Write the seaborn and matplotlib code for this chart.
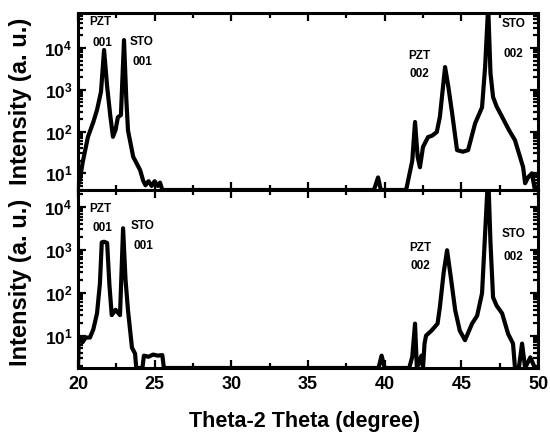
import matplotlib
matplotlib.use("Agg")
import matplotlib.pyplot as plt
import matplotlib.ticker as mticker
import seaborn as sns
import pandas as pd
import numpy as np

# ---------------- data ----------------
top_floor = 4.0
bot_floor = 1.75

top_x = [20.0, 20.15, 20.3, 20.65, 21.0, 21.24, 21.5, 21.7, 21.9, 22.1, 22.28,
         22.45, 22.6, 22.8, 23.0, 23.15, 23.26, 23.6, 24.05, 24.25, 24.4, 24.6,
         24.8, 25.0, 25.2, 25.35, 25.5, 30.0, 35.0, 39.3, 39.57, 39.75, 41.4,
         41.8, 41.98, 42.15, 42.3, 42.5, 42.83, 43.1, 43.4, 43.6, 43.94, 44.15,
         44.4, 44.72, 45.1, 45.44, 45.9, 46.35, 46.55, 46.75, 46.9, 47.07, 47.3,
         47.66, 48.1, 48.5, 49.03, 49.16, 49.35, 49.6, 49.8, 50.0]
top_y = [5, 8, 18, 75, 170, 330, 900, 9000, 1200, 250, 75,
         110, 220, 250, 15500, 600, 107, 25, 12, 6.7, 5.2, 6.5,
         5.0, 6.5, 5.0, 6.0, 4.0, 4.0, 4.0, 4.0, 8, 4.0, 4.0,
         20, 170, 25, 14, 43, 74, 80, 98, 225, 3500, 1200,
         275, 36, 33, 36, 158, 380, 3500, 100000, 2500, 670, 400,
         225, 110, 62, 14, 5.8, 8, 10, 4.0, 5]

bot_x = [20.0, 20.05, 20.13, 20.3, 20.5, 20.78, 21.0, 21.24, 21.43, 21.55, 21.7,
         21.9, 22.05, 22.2, 22.45, 22.74, 22.94, 23.1, 23.26, 23.52, 23.72,
         23.8, 24.2, 24.3, 24.6, 24.9, 25.2, 25.5, 25.6, 30.0, 35.0, 39.6, 39.8,
         40.0, 41.6, 41.8, 41.98, 42.1, 42.4, 42.5, 42.6, 42.7, 43.05, 43.45,
         43.6, 43.85, 44.07, 44.3, 44.6, 44.9, 45.24, 45.7, 46.03, 46.35, 46.55,
         46.75, 46.9, 47.07, 47.3, 47.66, 48.05, 48.37, 48.5, 48.75, 48.96,
         49.16, 49.5, 49.8, 50.0]
bot_y = [1.75, 7.8, 9, 7, 9, 9, 14, 33, 165, 1500, 1550,
         1450, 150, 30, 40, 30, 3200, 200, 39, 5.2, 3.8,
         1.75, 1.75, 3.4, 3.2, 3.6, 3.4, 3.5, 1.75, 1.75, 1.75, 1.75, 3.4,
         1.75, 1.75, 3.2, 19, 1.75, 3.4, 1.75, 6.5, 10, 13, 19,
         46, 300, 980, 250, 39, 13, 7.8, 19, 29, 97, 2400,
         60000, 1500, 78, 50, 33, 11, 6.5, 1.75, 1.75, 6.5,
         1.75, 3.1, 1.75, 1.75]

y_major = [10, 100, 1000, 10000]
y_major_labels = [r"$\mathbf{10^{1}}$", r"$\mathbf{10^{2}}$",
                  r"$\mathbf{10^{3}}$", r"$\mathbf{10^{4}}$"]
x_major = [20, 25, 30, 35, 40, 45, 50]

# ---------------- style ----------------
sns.set_theme(style="ticks")
plt.rcParams["font.family"] = ["Liberation Sans", "DejaVu Sans"]
plt.rcParams["font.weight"] = "bold"
plt.rcParams["mathtext.fontset"] = "custom"
plt.rcParams["mathtext.rm"] = "Liberation Sans:bold"
plt.rcParams["mathtext.bf"] = "Liberation Sans:bold"
plt.rcParams["mathtext.it"] = "Liberation Sans:bold"
for k in ["text.color", "axes.labelcolor", "xtick.color", "ytick.color",
          "axes.edgecolor", "xtick.labelcolor", "ytick.labelcolor"]:
    plt.rcParams[k] = "black"

fig = plt.figure(figsize=(5.5, 4.33), dpi=100)
W, H = 550, 433
L, R = 78, 538
ax_top = fig.add_axes([L / W, 1 - 190 / H, (R - L) / W, (190 - 13) / H])
ax_bot = fig.add_axes([L / W, 1 - 368 / H, (R - L) / W, (368 - 190) / H])

df_top = pd.DataFrame({"theta": top_x, "intensity": top_y})
df_bot = pd.DataFrame({"theta": bot_x, "intensity": bot_y})

for ax, df, ylim in [(ax_top, df_top, (top_floor, 69000)),
                     (ax_bot, df_bot, (bot_floor, 25000))]:
    sns.lineplot(data=df, x="theta", y="intensity", ax=ax, color="black",
                 linewidth=3.0, estimator=None, sort=False, legend=False)
    ax.set_yscale("log")
    ax.set_xlim(20, 50)
    ax.set_ylim(*ylim)
    ax.yaxis.set_major_locator(mticker.FixedLocator(y_major))
    ax.yaxis.set_major_formatter(mticker.FixedFormatter(y_major_labels))
    ax.yaxis.set_minor_locator(mticker.LogLocator(base=10, subs=np.arange(2, 10), numticks=20))
    ax.yaxis.set_minor_formatter(mticker.NullFormatter())
    ax.xaxis.set_major_locator(mticker.FixedLocator(x_major))
    ax.xaxis.set_minor_locator(mticker.MultipleLocator(2.5))
    ax.tick_params(which="both", direction="in", top=True, right=True,
                   color="black", labelcolor="black", width=1.6)
    ax.tick_params(which="major", length=6)
    ax.tick_params(which="minor", length=3.5)
    ax.tick_params(axis="y", labelsize=12.5, pad=4)
    ax.tick_params(axis="x", labelsize=13, pad=6)
    for s in ax.spines.values():
        s.set_linewidth(2.2)
        s.set_color("black")
    ax.set_ylabel("Intensity (a. u.)", fontsize=17, fontweight="bold", color="black")
    ax.set_xlabel("")

ax_top.tick_params(axis="x", labelbottom=False)
ax_top.yaxis.set_label_coords(-0.10, 0.5)
ax_bot.yaxis.set_label_coords(-0.10, 0.48)
ax_bot.set_xlabel("Theta-2 Theta (degree)", fontsize=15.5, fontweight="bold", color="black")
ax_bot.xaxis.set_label_coords(0.493, -0.24)

tkw = dict(fontsize=8.5, fontweight="bold", ha="center", va="center", color="black")
# top panel labels
ax_top.text(21.43, 42000, "PZT", **tkw)
ax_top.text(21.57, 13000, "001", **tkw)
ax_top.text(24.17, 14000, "STO", **tkw)
ax_top.text(24.17, 4600, "001", **tkw)
ax_top.text(42.24, 6400, "PZT", **tkw)
ax_top.text(42.24, 2400, "002", **tkw)
ax_top.text(48.38, 38000, "STO", **tkw)
ax_top.text(48.38, 7200, "002", **tkw)
# bottom panel labels
ax_bot.text(21.43, 9000, "PZT", **tkw)
ax_bot.text(21.57, 3200, "001", **tkw)
ax_bot.text(24.24, 3600, "STO", **tkw)
ax_bot.text(24.24, 1240, "001", **tkw)
ax_bot.text(42.3, 1100, "PZT", **tkw)
ax_bot.text(42.3, 420, "002", **tkw)
ax_bot.text(48.38, 2300, "STO", **tkw)
ax_bot.text(48.38, 700, "002", **tkw)

fig.savefig("out.png", dpi=100)
